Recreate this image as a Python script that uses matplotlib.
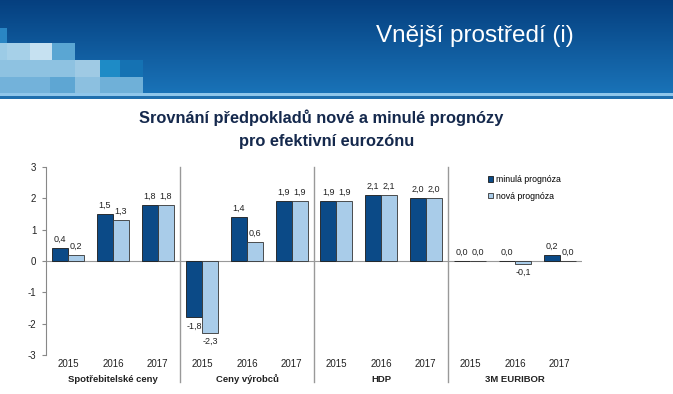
import numpy as np
import matplotlib.pyplot as plt
from matplotlib.patches import Rectangle

years = ['2015', '2016', '2017']
groups = ['Spotřebitelské ceny', 'Ceny výrobců', 'HDP', '3M EURIBOR']
minula = [0.4, 1.5, 1.8, -1.8, 1.4, 1.9, 1.9, 2.1, 2.0, 0.0, 0.0, 0.2]
nova = [0.2, 1.3, 1.8, -2.3, 0.6, 1.9, 1.9, 2.1, 2.0, 0.0, -0.1, 0.0]
yticks = [-3, -2, -1, 0, 1, 2, 3]

dark = '#0b4a87'
light = '#a9cce9'
txt = '#222222'

plt.rcParams['font.family'] = ['Liberation Sans', 'DejaVu Sans']

fig = plt.figure(figsize=(6.73, 3.94), dpi=100)

# slide banner
bg = fig.add_axes([0, 0, 1, 1])
bg.set_xlim(0, 673)
bg.set_ylim(394, 0)
bg.axis('off')
grad = np.linspace(0, 1, 100)[:, None]
top = np.array([0.02, 0.25, 0.50])
bot = np.array([0.10, 0.45, 0.72])
img = top + grad[..., None] * (bot - top)
img = np.repeat(img, 2, axis=1)
bg.imshow(img, extent=[0, 673, 93, 0], aspect='auto')
bg.add_patch(Rectangle((0, 93), 673, 3, color='#8fc6ea', lw=0))
bg.add_patch(Rectangle((0, 96), 673, 3, color='#1f6fae', lw=0))
squares = [
    (0, 28, 7, 15, '#2a86c4'),
    (0, 43, 7, 17, '#9ccbe6'), (7, 43, 23, 17, '#a6d0e8'),
    (30, 43, 22, 17, '#c6e1f1'), (52, 43, 23, 17, '#5aa6d3'),
    (0, 60, 75, 17, '#8ec2e1'), (75, 60, 25, 17, '#9fcae4'),
    (100, 60, 20, 17, '#1e8bc6'), (120, 60, 23, 17, '#1572b3'),
    (0, 77, 50, 16, '#73b2da'), (50, 77, 25, 16, '#5ea6d3'),
    (75, 77, 25, 16, '#8cc0e0'), (100, 77, 43, 16, '#6fb0d8'),
]
for x, y, w, h, c in squares:
    bg.add_patch(Rectangle((x, y), w, h, color=c, lw=0))
bg.text(475, 36, 'Vnější prostředí (i)', color='white', fontsize=17.5,
        ha='center', va='center')
bg.text(321, 118, 'Srovnání předpokladů nové a minulé prognózy',
        color='#15294d', fontsize=11.8, fontweight='bold', ha='center', va='center')
bg.text(327, 141, 'pro efektivní eurozónu',
        color='#15294d', fontsize=11.8, fontweight='bold', ha='center', va='center')

# chart
ax = fig.add_axes([46 / 673, 39 / 394, 536 / 673, 188 / 394])
n = len(minula)
x = np.arange(n) + 0.5
w = 0.36
b1 = ax.bar(x - w / 2, minula, w, color=dark, edgecolor='#1a1a1a', lw=0.6,
            label='minulá prognóza')
b2 = ax.bar(x + w / 2, nova, w, color=light, edgecolor='#333333', lw=0.6,
            label='nová prognóza')

for bars, vals in ((b1, minula), (b2, nova)):
    for rect, v in zip(bars, vals):
        lab = f'{v:.1f}'.replace('.', ',')
        cx = rect.get_x() + rect.get_width() / 2
        if v < 0:
            ax.annotate(lab, (cx, v), xytext=(0, -3), textcoords='offset points',
                        ha='center', va='top', fontsize=6.5, color=txt)
        else:
            ax.annotate(lab, (cx, v), xytext=(0, 3), textcoords='offset points',
                        ha='center', va='bottom', fontsize=6.5, color=txt)

ax.set_xlim(0, n)
ax.set_ylim(-3, 3)
ax.set_yticks(yticks)
ax.set_yticklabels([str(t) for t in yticks], fontsize=7, color=txt)
ax.tick_params(axis='y', length=3, color='#888888', pad=4)
ax.set_xticks(x)
ax.set_xticklabels(years * len(groups), fontsize=7, color=txt)
ax.tick_params(axis='x', length=0, pad=3)
for s in ('top', 'right', 'bottom'):
    ax.spines[s].set_visible(False)
ax.spines['left'].set_color('#888888')
ax.axhline(0, color='#999999', lw=0.8, zorder=0)
for k in range(1, len(groups)):
    ax.axvline(3 * k, ymin=-0.145, ymax=1, color='#999999', lw=1, clip_on=False)
for k, g in enumerate(groups):
    ax.text(3 * k + 1.5, -0.128, g, transform=ax.get_xaxis_transform(),
            ha='center', va='center', fontsize=6.8, fontweight='bold', color=txt)

ax.legend(loc='upper left', bbox_to_anchor=(0.818, 0.975), frameon=False,
          fontsize=6.3, handlelength=0.6, handleheight=0.6, handletextpad=0.3,
          labelspacing=0.85, borderaxespad=0)

fig.savefig('out.png', dpi=100)
